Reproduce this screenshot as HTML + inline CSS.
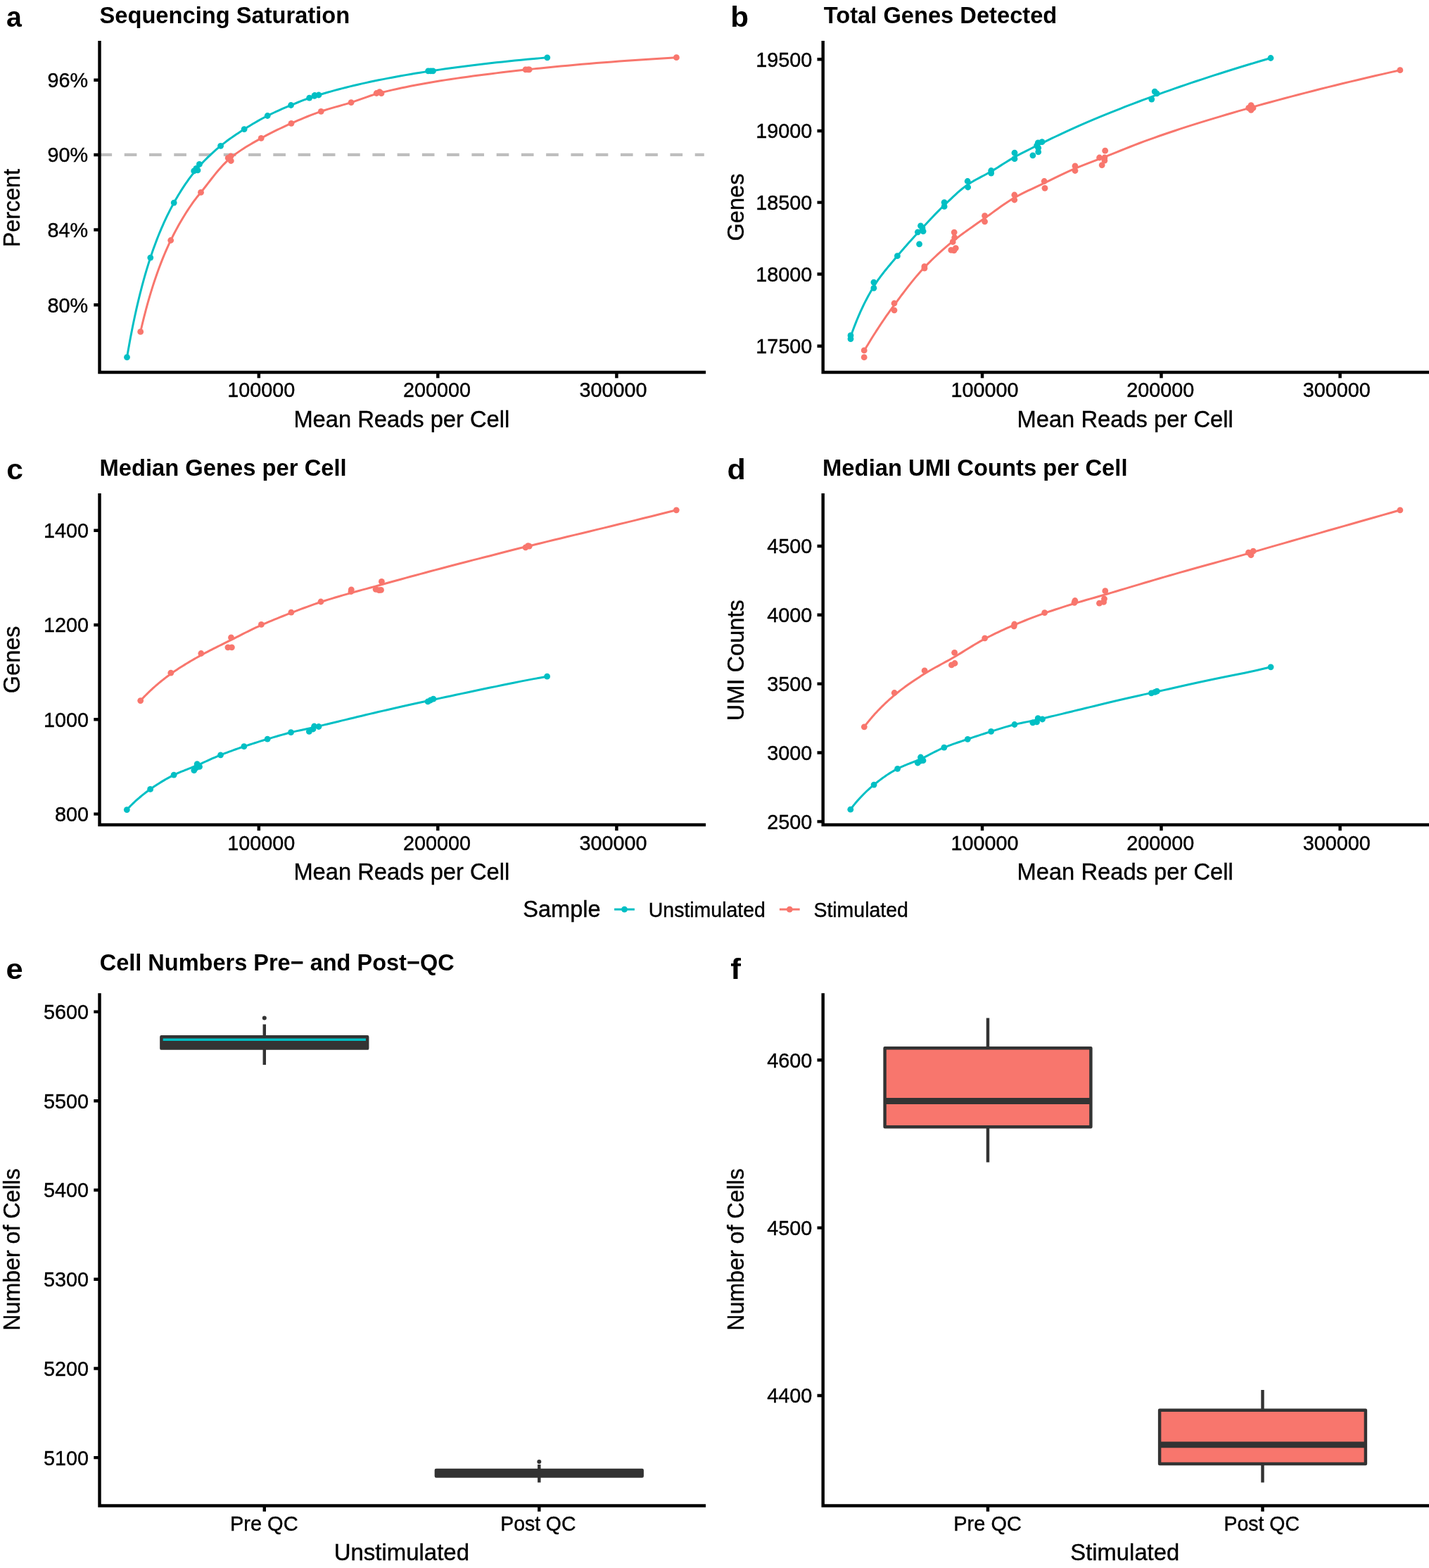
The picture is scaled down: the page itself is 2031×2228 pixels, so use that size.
<!DOCTYPE html>
<html lang="en">
<head>
<meta charset="utf-8">
<title>Sequencing QC figure</title>
<style>
html,body{margin:0;padding:0;background:#fff;}
body{width:2031px;height:2228px;}
svg{display:block;}
svg text{font-family:"Liberation Sans",sans-serif;fill:#000;}
svg text.r{stroke:#000;stroke-width:0.4px;}
</style>
</head>
<body>
<svg width="2031" height="2228" viewBox="0 0 2031 2228">
<rect width="2031" height="2228" fill="#fff"/>
<path d="M141.5 219.95H1000.8" stroke="#BEBEBE" stroke-width="4.2" stroke-dasharray="17.63 17.63" fill="none"/>
<path d="M180.5 507.6L181.47 501.9L182.46 496.25L183.46 490.64L184.48 485.08L185.51 479.57L186.55 474.11L187.61 468.69L188.69 463.32L189.78 458L190.89 452.73L192.01 447.5L193.15 442.32L194.31 437.19L195.48 432.11L196.68 427.08L197.88 422.09L199.11 417.15L200.35 412.26L201.61 407.42L202.89 402.63L204.19 397.88L205.51 393.18L206.85 388.54L208.2 383.94L209.58 379.39L210.97 374.88L212.39 370.43L213.82 366.02L215.28 361.67L216.76 357.36L218.26 353.11L219.78 348.9L221.33 344.75L222.89 340.64L224.48 336.57L226.09 332.56L227.73 328.59L229.39 324.67L231.07 320.79L232.78 316.95L234.52 313.16L236.27 309.41L238.06 305.71L239.87 302.04L241.7 298.42L243.57 294.83L245.46 291.29L247.37 287.79L249.32 284.32L251.29 280.9L253.29 277.51L255.33 274.16L257.39 270.86L259.48 267.59L261.6 264.37L263.75 261.2L265.93 258.06L268.15 254.98L270.4 251.93L272.68 248.94L274.99 245.99L277.34 243.09L279.72 240.24L282.13 237.45L284.58 234.7L287.07 231.99L289.59 229.33L292.15 226.71L294.75 224.13L297.38 221.59L300.05 219.08L302.76 216.61L305.52 214.16L308.31 211.74L311.14 209.34L314.01 206.96L316.92 204.63L319.88 202.33L322.88 200.07L325.92 197.83L329.01 195.63L332.14 193.45L335.32 191.29L338.54 189.14L341.82 186.99L345.13 184.85L348.5 182.71L351.92 180.57L355.38 178.44L358.9 176.31L362.46 174.2L366.08 172.11L369.75 170.05L373.48 168.01L377.26 166.01L381.09 164.05L384.98 162.13L388.93 160.24L392.93 158.38L396.99 156.55L401.11 154.73L405.3 152.93L409.54 151.14L413.84 149.36L418.21 147.57L422.64 145.76L427.13 143.97L431.69 142.2L436.31 140.48L441.01 138.82L445.77 137.23L450.6 135.72L455.5 134.22L460.47 132.74L465.51 131.28L470.63 129.84L475.82 128.41L481.09 127.01L486.43 125.62L491.85 124.24L497.35 122.89L502.93 121.54L508.6 120.22L514.34 118.91L520.17 117.62L526.08 116.34L532.08 115.08L538.16 113.83L544.33 112.6L550.6 111.38L556.95 110.17L563.4 108.98L569.94 107.8L576.58 106.64L583.31 105.49L590.14 104.35L597.07 103.23L604.1 102.12L611.23 101.02L618.47 99.93L625.81 98.86L633.25 97.79L640.81 96.74L648.48 95.71L656.26 94.69L664.15 93.68L672.15 92.68L680.27 91.7L688.51 90.73L696.87 89.77L705.35 88.83L713.96 87.9L722.69 86.99L731.55 86.09L740.53 85.2L749.65 84.33L758.9 83.47L768.28 82.63L777.8 81.8" fill="none" stroke="#00BFC4" stroke-width="3" stroke-linejoin="round"/>
<path d="M199.7 471.4L200.95 466.03L202.21 460.71L203.5 455.44L204.8 450.23L206.12 445.08L207.46 439.98L208.82 434.94L210.2 429.95L211.6 425.02L213.02 420.15L214.46 415.35L215.92 410.6L217.4 405.91L218.91 401.28L220.43 396.72L221.98 392.2L223.55 387.74L225.15 383.32L226.76 378.96L228.4 374.65L230.06 370.39L231.75 366.18L233.46 362.03L235.2 357.93L236.96 353.89L238.75 349.91L240.56 345.98L242.4 342.12L244.27 338.3L246.16 334.52L248.08 330.78L250.03 327.08L252.01 323.42L254.01 319.79L256.05 316.2L258.11 312.66L260.2 309.15L262.33 305.68L264.48 302.26L266.67 298.87L268.89 295.53L271.14 292.22L273.42 288.96L275.73 285.74L278.08 282.57L280.47 279.44L282.88 276.52L285.34 273.6L287.83 270.5L290.35 267.3L292.91 264L295.51 260.64L298.14 257.23L300.82 253.79L303.53 250.35L306.28 246.93L309.07 243.55L311.91 240.22L314.78 236.98L317.69 233.84L320.65 230.83L323.65 227.96L326.69 225.26L329.78 222.71L332.91 220.26L336.09 217.89L339.31 215.6L342.58 213.38L345.9 211.21L349.27 209.1L352.68 207.01L356.15 204.96L359.66 202.92L363.23 200.88L366.84 198.84L370.51 196.78L374.23 194.72L378.01 192.68L381.84 190.66L385.73 188.66L389.67 186.68L393.67 184.71L397.73 182.76L401.84 180.82L406.02 178.89L410.26 176.97L414.56 175.05L418.92 173.14L423.34 171.22L427.83 169.3L432.38 167.4L437 165.51L441.68 163.66L446.44 161.84L451.26 160.07L456.15 158.35L461.11 156.71L466.15 155.15L471.26 153.65L476.44 152.17L481.7 150.69L487.03 149.18L492.44 147.62L497.93 145.96L503.5 144.17L509.15 142.2L514.88 140.13L520.69 138.04L526.59 136L532.57 134.09L538.64 132.39L544.8 130.85L551.05 129.35L557.39 127.88L563.82 126.44L570.34 125.04L576.96 123.66L583.67 122.32L590.48 121L597.39 119.71L604.4 118.45L611.51 117.21L618.72 116L626.04 114.81L633.47 113.64L641 112.49L648.64 111.36L656.39 110.25L664.26 109.15L672.23 108.07L680.33 107.01L688.54 105.95L696.87 104.91L705.32 103.88L713.89 102.86L722.59 101.85L731.41 100.85L740.36 99.85L749.44 98.86L758.66 97.88L768 96.9L777.48 95.94L787.1 95L796.86 94.06L806.76 93.14L816.8 92.24L826.99 91.34L837.33 90.46L847.81 89.6L858.45 88.74L869.24 87.9L880.19 87.08L891.3 86.27L902.57 85.47L914 84.69L925.59 83.92L937.36 83.16L949.29 82.42L961.4 81.7" fill="none" stroke="#F8766D" stroke-width="3" stroke-linejoin="round"/>
<g fill="#00BFC4"><circle cx="180.5" cy="507.6" r="4.4"/><circle cx="213.8" cy="366.1" r="4.4"/><circle cx="247.2" cy="288.1" r="4.4"/><circle cx="275.7" cy="242.9" r="4.4"/><circle cx="278.9" cy="239.4" r="4.4"/><circle cx="281" cy="241.9" r="4.4"/><circle cx="283.4" cy="233.4" r="4.4"/><circle cx="313.6" cy="207.3" r="4.4"/><circle cx="347.1" cy="183.6" r="4.4"/><circle cx="380.2" cy="164.5" r="4.4"/><circle cx="413.5" cy="149.5" r="4.4"/><circle cx="439.7" cy="139.1" r="4.4"/><circle cx="446.8" cy="136.3" r="4.4"/><circle cx="447.3" cy="135.5" r="4.4"/><circle cx="453" cy="135" r="4.4"/><circle cx="608.6" cy="100.9" r="4.4"/><circle cx="612.2" cy="100.9" r="4.4"/><circle cx="615.4" cy="100.9" r="4.4"/><circle cx="777.8" cy="81.8" r="4.4"/></g>
<g fill="#F8766D"><circle cx="199.7" cy="471.4" r="4.4"/><circle cx="242.7" cy="341.5" r="4.4"/><circle cx="285.5" cy="273.4" r="4.4"/><circle cx="324.2" cy="224.4" r="4.4"/><circle cx="328" cy="222" r="4.4"/><circle cx="328.3" cy="228.5" r="4.4"/><circle cx="371.2" cy="196.4" r="4.4"/><circle cx="414" cy="175.3" r="4.4"/><circle cx="456.3" cy="158.3" r="4.4"/><circle cx="499.1" cy="145.6" r="4.4"/><circle cx="535.1" cy="132.5" r="4.4"/><circle cx="539.5" cy="130.6" r="4.4"/><circle cx="542" cy="132.7" r="4.4"/><circle cx="747" cy="98.8" r="4.4"/><circle cx="750.5" cy="98.8" r="4.4"/><circle cx="752.2" cy="98.8" r="4.4"/><circle cx="961.4" cy="81.7" r="4.4"/></g>
<path d="M141.5 57.95V528.95H1003.1" fill="none" stroke="#000" stroke-width="4.45" stroke-linejoin="miter"/>
<path d="M367.85 528.95v8.2M622.3 528.95v8.2M876.4 528.95v8.2M141.5 113.8h-8.2M141.5 219.95h-8.2M141.5 326.5h-8.2M141.5 433.3h-8.2" fill="none" stroke="#000" stroke-width="4.45"/>
<text id="t1" x="125.2" y="124.2" font-size="29.8" text-anchor="end" textLength="57.64" lengthAdjust="spacingAndGlyphs" class="r">96%</text>
<text id="t2" x="125.2" y="230.35" font-size="29.8" text-anchor="end" textLength="57.64" lengthAdjust="spacingAndGlyphs" class="r">90%</text>
<text id="t3" x="125.2" y="336.9" font-size="29.8" text-anchor="end" textLength="57.64" lengthAdjust="spacingAndGlyphs" class="r">84%</text>
<text id="t4" x="125.2" y="443.7" font-size="29.8" text-anchor="end" textLength="57.64" lengthAdjust="spacingAndGlyphs" class="r">80%</text>
<text id="t5" x="371.3" y="563.9" font-size="29.8" text-anchor="middle" textLength="96.1" lengthAdjust="spacingAndGlyphs" class="r">100000</text>
<text id="t6" x="621" y="563.9" font-size="29.8" text-anchor="middle" textLength="96.1" lengthAdjust="spacingAndGlyphs" class="r">200000</text>
<text id="t7" x="871.6" y="563.9" font-size="29.8" text-anchor="middle" textLength="96.1" lengthAdjust="spacingAndGlyphs" class="r">300000</text>
<text id="t8" x="570.82" y="606.9" font-size="33" text-anchor="middle" textLength="306.83" lengthAdjust="spacingAndGlyphs" class="r">Mean Reads per Cell</text>
<text id="t9" x="28" y="295.6" font-size="33" text-anchor="middle" transform="rotate(-90 28 295.6)" textLength="111.18" lengthAdjust="spacingAndGlyphs" class="r">Percent</text>
<text id="t10" x="141.51" y="33.3" font-size="33.3" font-weight="bold" textLength="355.75" lengthAdjust="spacingAndGlyphs">Sequencing Saturation</text>
<text id="t11" x="8.92" y="37.9" font-size="41" font-weight="bold" textLength="21.88" lengthAdjust="spacingAndGlyphs">a</text>
<path d="M1209 478.5L1209.98 475.68L1210.96 472.87L1211.97 470.09L1212.99 467.32L1214.02 464.57L1215.07 461.84L1216.13 459.12L1217.21 456.43L1218.3 453.75L1219.41 451.09L1220.54 448.44L1221.68 445.82L1222.84 443.21L1224.02 440.62L1225.21 438.05L1226.42 435.49L1227.65 432.96L1228.9 430.44L1230.16 427.93L1231.44 425.45L1232.74 422.98L1234.06 420.53L1235.4 418.1L1236.76 415.69L1238.14 413.29L1239.54 410.91L1240.96 408.54L1242.4 406.2L1243.86 403.9L1245.34 401.64L1246.84 399.41L1248.36 397.23L1249.91 395.07L1251.48 392.93L1253.07 390.82L1254.69 388.72L1256.32 386.63L1257.99 384.54L1259.67 382.46L1261.38 380.37L1263.12 378.28L1264.88 376.17L1266.66 374.04L1268.48 371.9L1270.31 369.72L1272.18 367.52L1274.07 365.28L1275.99 363L1277.94 360.69L1279.91 358.38L1281.92 356.04L1283.95 353.69L1286.02 351.33L1288.11 348.94L1290.23 346.54L1292.39 344.12L1294.57 341.68L1296.79 339.22L1299.04 336.74L1301.32 334.24L1303.63 331.71L1305.98 329.17L1308.37 326.61L1310.78 324L1313.24 321.36L1315.72 318.68L1318.25 315.96L1320.81 313.22L1323.41 310.46L1326.04 307.69L1328.72 304.91L1331.43 302.12L1334.18 299.33L1336.97 296.56L1339.8 293.79L1342.68 291.05L1345.59 288.26L1348.55 285.42L1351.55 282.55L1354.6 279.66L1357.68 276.8L1360.82 273.96L1364 271.19L1367.22 268.5L1370.49 265.91L1373.81 263.45L1377.18 261.13L1380.59 258.98L1384.06 256.93L1387.57 254.98L1391.14 253.07L1394.76 251.17L1398.43 249.24L1402.16 247.26L1405.93 245.18L1409.77 242.97L1413.66 240.63L1417.6 238.17L1421.6 235.64L1425.66 233.07L1429.78 230.48L1433.96 227.9L1438.2 225.37L1442.51 222.92L1446.87 220.53L1451.3 218.19L1455.79 215.87L1460.34 213.57L1464.97 211.26L1469.66 208.94L1474.42 206.58L1479.24 204.19L1484.14 201.78L1489.11 199.36L1494.15 196.93L1499.26 194.5L1504.45 192.05L1509.71 189.6L1515.05 187.15L1520.47 184.68L1525.96 182.21L1531.54 179.73L1537.2 177.24L1542.93 174.74L1548.76 172.24L1554.66 169.73L1560.65 167.21L1566.73 164.69L1572.9 162.16L1579.15 159.62L1585.5 157.07L1591.94 154.52L1598.47 151.96L1605.1 149.39L1611.82 146.81L1618.65 144.23L1625.57 141.64L1632.59 139.05L1639.71 136.44L1646.94 133.83L1654.27 131.2L1661.7 128.57L1669.25 125.93L1676.9 123.28L1684.67 120.62L1692.55 117.95L1700.54 115.27L1708.65 112.58L1716.88 109.89L1725.22 107.18L1733.69 104.47L1742.28 101.75L1750.99 99.03L1759.83 96.29L1768.8 93.55L1777.9 90.8L1787.13 88.04L1796.5 85.27L1806 82.5" fill="none" stroke="#00BFC4" stroke-width="3" stroke-linejoin="round"/>
<path d="M1228.2 498.5L1229.45 496.38L1230.72 494.23L1232 492.08L1233.31 489.9L1234.63 487.71L1235.98 485.5L1237.34 483.28L1238.72 481.04L1240.12 478.79L1241.55 476.52L1242.99 474.24L1244.45 471.94L1245.94 469.63L1247.45 467.31L1248.97 464.97L1250.53 462.61L1252.1 460.25L1253.69 457.87L1255.31 455.48L1256.96 453.08L1258.62 450.66L1260.31 448.23L1262.03 445.79L1263.77 443.34L1265.53 440.88L1267.32 438.41L1269.14 435.92L1270.98 433.43L1272.85 430.91L1274.74 428.34L1276.67 425.75L1278.62 423.11L1280.6 420.45L1282.61 417.77L1284.64 415.06L1286.71 412.34L1288.81 409.61L1290.93 406.86L1293.09 404.11L1295.28 401.36L1297.5 398.62L1299.76 395.88L1302.04 393.15L1304.36 390.44L1306.71 387.75L1309.1 385.08L1311.52 382.43L1313.97 379.82L1316.46 377.24L1318.99 374.66L1321.56 372.1L1324.16 369.55L1326.79 367.01L1329.47 364.48L1332.19 361.96L1334.94 359.45L1337.74 356.94L1340.57 354.44L1343.45 351.95L1346.36 349.46L1349.32 346.97L1352.33 344.49L1355.37 342.01L1358.46 339.54L1361.6 337.1L1364.78 334.68L1368 332.28L1371.28 329.88L1374.6 327.49L1377.96 325.1L1381.38 322.69L1384.85 320.27L1388.36 317.82L1391.93 315.34L1395.55 312.83L1399.22 310.26L1402.95 307.63L1406.72 304.91L1410.56 302.12L1414.45 299.29L1418.39 296.44L1422.39 293.59L1426.45 290.76L1430.57 287.98L1434.75 285.27L1438.99 282.65L1443.29 280.15L1447.65 277.75L1452.08 275.44L1456.56 273.19L1461.12 270.97L1465.74 268.78L1470.43 266.58L1475.18 264.36L1480 262.09L1484.9 259.76L1489.86 257.36L1494.9 254.91L1500.01 252.43L1505.19 249.93L1510.45 247.42L1515.78 244.93L1521.19 242.48L1526.68 240.07L1532.25 237.72L1537.9 235.44L1543.63 233.19L1549.44 230.95L1555.34 228.7L1561.32 226.41L1567.39 224.06L1573.55 221.62L1579.8 219.12L1586.14 216.57L1592.56 213.99L1599.09 211.38L1605.7 208.75L1612.41 206.13L1619.22 203.51L1626.13 200.92L1633.14 198.36L1640.25 195.82L1647.46 193.28L1654.78 190.75L1662.2 188.23L1669.73 185.71L1677.37 183.19L1685.11 180.68L1692.98 178.17L1700.95 175.66L1709.04 173.14L1717.25 170.62L1725.57 168.1L1734.02 165.57L1742.59 163.03L1751.28 160.48L1760.1 157.92L1769.04 155.35L1778.12 152.77L1787.33 150.17L1796.67 147.57L1806.14 144.96L1815.75 142.35L1825.5 139.73L1835.4 137.11L1845.43 134.48L1855.61 131.84L1865.94 129.19L1876.42 126.54L1887.05 123.89L1897.83 121.22L1908.77 118.56L1919.86 115.88L1931.12 113.2L1942.54 110.51L1954.13 107.82L1965.88 105.12L1977.8 102.41L1989.9 99.7" fill="none" stroke="#F8766D" stroke-width="3" stroke-linejoin="round"/>
<g fill="#00BFC4"><circle cx="1209" cy="476.7" r="4.4"/><circle cx="1209" cy="481.6" r="4.4"/><circle cx="1241.9" cy="401.1" r="4.4"/><circle cx="1241.9" cy="409.3" r="4.4"/><circle cx="1275.4" cy="363.7" r="4.4"/><circle cx="1304.4" cy="329.8" r="4.4"/><circle cx="1308.5" cy="320.8" r="4.4"/><circle cx="1311" cy="324.1" r="4.4"/><circle cx="1312.1" cy="328.6" r="4.4"/><circle cx="1306.6" cy="346.8" r="4.4"/><circle cx="1342.1" cy="287.6" r="4.4"/><circle cx="1342.1" cy="293.4" r="4.4"/><circle cx="1375.2" cy="257.5" r="4.4"/><circle cx="1375.7" cy="266" r="4.4"/><circle cx="1408.7" cy="242.5" r="4.4"/><circle cx="1408.7" cy="246.1" r="4.4"/><circle cx="1442" cy="217.2" r="4.4"/><circle cx="1442" cy="225.7" r="4.4"/><circle cx="1467.9" cy="220.8" r="4.4"/><circle cx="1473.6" cy="206.9" r="4.4"/><circle cx="1475.3" cy="202.8" r="4.4"/><circle cx="1481" cy="201.7" r="4.4"/><circle cx="1475.7" cy="210.2" r="4.4"/><circle cx="1475.7" cy="215.9" r="4.4"/><circle cx="1636.8" cy="141.1" r="4.4"/><circle cx="1641.2" cy="130.1" r="4.4"/><circle cx="1644.1" cy="132.8" r="4.4"/><circle cx="1806" cy="82.5" r="4.4"/></g>
<g fill="#F8766D"><circle cx="1228.2" cy="497.9" r="4.4"/><circle cx="1228.2" cy="507.7" r="4.4"/><circle cx="1271" cy="431" r="4.4"/><circle cx="1271" cy="440.8" r="4.4"/><circle cx="1313.9" cy="378.7" r="4.4"/><circle cx="1313.9" cy="381.2" r="4.4"/><circle cx="1356.2" cy="330.1" r="4.4"/><circle cx="1356.7" cy="337.7" r="4.4"/><circle cx="1354.2" cy="343.7" r="4.4"/><circle cx="1351.8" cy="355.4" r="4.4"/><circle cx="1355.9" cy="355.9" r="4.4"/><circle cx="1358.3" cy="352.6" r="4.4"/><circle cx="1399.6" cy="306.7" r="4.4"/><circle cx="1399.6" cy="314.8" r="4.4"/><circle cx="1441.8" cy="277" r="4.4"/><circle cx="1441.8" cy="284" r="4.4"/><circle cx="1484.2" cy="257.5" r="4.4"/><circle cx="1485" cy="267.3" r="4.4"/><circle cx="1528" cy="235.9" r="4.4"/><circle cx="1528" cy="242.5" r="4.4"/><circle cx="1570.7" cy="214.2" r="4.4"/><circle cx="1562.6" cy="224" r="4.4"/><circle cx="1569.9" cy="224" r="4.4"/><circle cx="1566.2" cy="234.6" r="4.4"/><circle cx="1569.9" cy="228.1" r="4.4"/><circle cx="1774.7" cy="153.4" r="4.4"/><circle cx="1778.1" cy="149.6" r="4.4"/><circle cx="1778.1" cy="156.3" r="4.4"/><circle cx="1781" cy="153.4" r="4.4"/><circle cx="1989.9" cy="99.7" r="4.4"/></g>
<path d="M1169.7 57.95V528.95H2033" fill="none" stroke="#000" stroke-width="4.45" stroke-linejoin="miter"/>
<path d="M1396.05 528.95v8.2M1650.5 528.95v8.2M1904.6 528.95v8.2M1169.7 84.3h-8.2M1169.7 185.9h-8.2M1169.7 287.6h-8.2M1169.7 389.5h-8.2M1169.7 491.7h-8.2" fill="none" stroke="#000" stroke-width="4.45"/>
<text id="t12" x="1154.3" y="94.7" font-size="29.8" text-anchor="end" textLength="80.09" lengthAdjust="spacingAndGlyphs" class="r">19500</text>
<text id="t13" x="1154.3" y="196.3" font-size="29.8" text-anchor="end" textLength="80.09" lengthAdjust="spacingAndGlyphs" class="r">19000</text>
<text id="t14" x="1154.3" y="298" font-size="29.8" text-anchor="end" textLength="80.09" lengthAdjust="spacingAndGlyphs" class="r">18500</text>
<text id="t15" x="1154.3" y="399.9" font-size="29.8" text-anchor="end" textLength="80.09" lengthAdjust="spacingAndGlyphs" class="r">18000</text>
<text id="t16" x="1154.3" y="502.1" font-size="29.8" text-anchor="end" textLength="80.09" lengthAdjust="spacingAndGlyphs" class="r">17500</text>
<text id="t17" x="1399.5" y="563.9" font-size="29.8" text-anchor="middle" textLength="96.1" lengthAdjust="spacingAndGlyphs" class="r">100000</text>
<text id="t18" x="1649.2" y="563.9" font-size="29.8" text-anchor="middle" textLength="96.1" lengthAdjust="spacingAndGlyphs" class="r">200000</text>
<text id="t19" x="1899.8" y="563.9" font-size="29.8" text-anchor="middle" textLength="96.1" lengthAdjust="spacingAndGlyphs" class="r">300000</text>
<text id="t20" x="1599.14" y="606.9" font-size="33" text-anchor="middle" textLength="307.3" lengthAdjust="spacingAndGlyphs" class="r">Mean Reads per Cell</text>
<text id="t21" x="1056.7" y="294.47" font-size="33" text-anchor="middle" transform="rotate(-90 1056.7 294.47)" textLength="96.01" lengthAdjust="spacingAndGlyphs" class="r">Genes</text>
<text id="t22" x="1170.72" y="33.3" font-size="33.3" font-weight="bold" textLength="331.61" lengthAdjust="spacingAndGlyphs">Total Genes Detected</text>
<text id="t23" x="1038.15" y="38" font-size="41" font-weight="bold" textLength="25.76" lengthAdjust="spacingAndGlyphs">b</text>
<path d="M180.3 1150.6L181.27 1149.54L182.26 1148.48L183.26 1147.42L184.27 1146.37L185.3 1145.31L186.34 1144.26L187.4 1143.21L188.48 1142.16L189.57 1141.11L190.67 1140.06L191.79 1139.02L192.93 1137.97L194.09 1136.93L195.26 1135.89L196.45 1134.84L197.65 1133.8L198.88 1132.77L200.12 1131.73L201.38 1130.69L202.66 1129.66L203.95 1128.62L205.27 1127.59L206.6 1126.56L207.96 1125.53L209.33 1124.5L210.72 1123.47L212.14 1122.45L213.57 1121.42L215.03 1120.39L216.5 1119.36L218 1118.33L219.52 1117.3L221.06 1116.27L222.63 1115.24L224.22 1114.2L225.83 1113.18L227.46 1112.15L229.12 1111.12L230.8 1110.1L232.51 1109.09L234.24 1108.08L235.99 1107.07L237.78 1106.07L239.58 1105.08L241.42 1104.1L243.28 1103.13L245.17 1102.16L247.08 1101.21L249.02 1100.27L251 1099.36L253 1098.47L255.03 1097.59L257.09 1096.73L259.17 1095.87L261.29 1095.02L263.44 1094.16L265.62 1093.3L267.84 1092.43L270.08 1091.54L272.36 1090.63L274.67 1089.7L277.02 1088.74L279.4 1087.75L281.81 1086.73L284.26 1085.66L286.74 1084.55L289.26 1083.41L291.82 1082.25L294.42 1081.07L297.05 1079.87L299.72 1078.67L302.43 1077.46L305.18 1076.26L307.97 1075.07L310.8 1073.89L313.67 1072.73L316.58 1071.59L319.54 1070.45L322.53 1069.31L325.58 1068.18L328.66 1067.04L331.79 1065.91L334.97 1064.78L338.19 1063.65L341.46 1062.52L344.78 1061.38L348.14 1060.25L351.56 1059.11L355.02 1057.98L358.54 1056.85L362.1 1055.72L365.72 1054.58L369.39 1053.44L373.12 1052.3L376.89 1051.16L380.73 1050.01L384.62 1048.85L388.56 1047.67L392.56 1046.48L396.63 1045.29L400.75 1044.11L404.93 1042.94L409.17 1041.81L413.47 1040.71L417.84 1039.66L422.26 1038.66L426.76 1037.69L431.32 1036.73L435.94 1035.74L440.64 1034.72L445.4 1033.64L450.23 1032.5L455.13 1031.34L460.1 1030.15L465.14 1028.94L470.26 1027.71L475.45 1026.46L480.72 1025.19L486.07 1023.9L491.49 1022.6L496.99 1021.27L502.57 1019.93L508.24 1018.57L513.98 1017.2L519.81 1015.81L525.72 1014.41L531.72 1012.99L537.81 1011.56L543.99 1010.12L550.25 1008.67L556.61 1007.21L563.06 1005.74L569.6 1004.26L576.24 1002.77L582.98 1001.27L589.81 999.77L596.74 998.26L603.78 996.75L610.91 995.23L618.15 993.7L625.5 992.13L632.95 990.54L640.51 988.93L648.18 987.29L655.96 985.62L663.86 983.94L671.87 982.25L680 980.54L688.24 978.82L696.61 977.09L705.1 975.35L713.71 973.56L722.44 971.74L731.31 969.93L740.3 968.14L749.42 966.38L758.68 964.64L768.07 962.91L777.6 961.2" fill="none" stroke="#00BFC4" stroke-width="3" stroke-linejoin="round"/>
<path d="M199.7 995.6L200.95 994.24L202.21 992.87L203.5 991.51L204.8 990.15L206.12 988.79L207.46 987.43L208.82 986.08L210.2 984.72L211.6 983.37L213.02 982.01L214.46 980.66L215.92 979.3L217.4 977.95L218.91 976.6L220.43 975.25L221.98 973.9L223.55 972.56L225.14 971.21L226.76 969.86L228.4 968.52L230.06 967.17L231.75 965.83L233.46 964.49L235.2 963.15L236.96 961.81L238.75 960.47L240.56 959.13L242.4 957.79L244.27 956.45L246.16 955.12L248.08 953.8L250.03 952.48L252 951.16L254.01 949.84L256.04 948.53L258.11 947.22L260.2 945.91L262.32 944.6L264.48 943.28L266.66 941.97L268.88 940.65L271.13 939.32L273.41 938L275.73 936.66L278.08 935.32L280.46 933.98L282.88 932.62L285.33 931.26L287.82 929.89L290.34 928.53L292.9 927.16L295.5 925.8L298.14 924.43L300.81 923.06L303.52 921.68L306.27 920.29L309.07 918.89L311.9 917.48L314.77 916.05L317.68 914.61L320.64 913.14L323.64 911.66L326.68 910.15L329.77 908.62L332.9 907.05L336.08 905.44L339.3 903.8L342.57 902.14L345.89 900.46L349.26 898.77L352.67 897.06L356.13 895.36L359.65 893.65L363.21 891.95L366.83 890.27L370.5 888.6L374.22 886.95L377.99 885.31L381.83 883.68L385.71 882.04L389.65 880.41L393.65 878.78L397.71 877.15L401.83 875.51L406 873.87L410.24 872.22L414.54 870.56L418.9 868.88L423.32 867.18L427.81 865.47L432.36 863.76L436.98 862.05L441.66 860.35L446.41 858.67L451.24 857L456.13 855.36L461.09 853.75L466.12 852.16L471.23 850.58L476.41 849.03L481.67 847.47L487 845.92L492.41 844.36L497.9 842.8L503.47 841.23L509.11 839.68L514.84 838.14L520.66 836.59L526.56 835.01L532.54 833.4L538.61 831.73L544.76 830.01L551.01 828.28L557.35 826.52L563.78 824.75L570.3 822.96L576.92 821.14L583.63 819.31L590.44 817.46L597.35 815.59L604.35 813.7L611.46 811.8L618.68 809.87L625.99 807.93L633.42 805.97L640.95 803.99L648.59 802L656.34 799.99L664.2 797.96L672.18 795.92L680.27 793.86L688.48 791.79L696.81 789.7L705.26 787.56L713.83 785.32L722.53 783.02L731.35 780.73L740.3 778.53L749.38 776.45L758.59 774.2L767.93 771.93L777.41 769.63L787.03 767.31L796.79 764.95L806.69 762.56L816.73 760.14L826.91 757.69L837.25 755.19L847.73 752.66L858.37 750.09L869.16 747.48L880.1 744.82L891.21 742.11L902.48 739.36L913.9 736.55L925.5 733.7L937.26 730.79L949.19 727.82L961.3 724.8" fill="none" stroke="#F8766D" stroke-width="3" stroke-linejoin="round"/>
<g fill="#00BFC4"><circle cx="180.3" cy="1150.6" r="4.4"/><circle cx="213.6" cy="1121.4" r="4.4"/><circle cx="247.1" cy="1101.2" r="4.4"/><circle cx="275.8" cy="1094.6" r="4.4"/><circle cx="280.2" cy="1085.7" r="4.4"/><circle cx="283.5" cy="1089.4" r="4.4"/><circle cx="278.9" cy="1090.9" r="4.4"/><circle cx="313.5" cy="1072.8" r="4.4"/><circle cx="346.8" cy="1060.7" r="4.4"/><circle cx="380.1" cy="1050.2" r="4.4"/><circle cx="413.5" cy="1040.7" r="4.4"/><circle cx="439.4" cy="1039.4" r="4.4"/><circle cx="445" cy="1036" r="4.4"/><circle cx="446.6" cy="1032" r="4.4"/><circle cx="453" cy="1032.5" r="4.4"/><circle cx="608.1" cy="996.9" r="4.4"/><circle cx="611.8" cy="995" r="4.4"/><circle cx="615.9" cy="993.2" r="4.4"/><circle cx="777.6" cy="961.2" r="4.4"/></g>
<g fill="#F8766D"><circle cx="199.7" cy="995.6" r="4.4"/><circle cx="242.8" cy="956.2" r="4.4"/><circle cx="285.8" cy="928.5" r="4.4"/><circle cx="328.5" cy="905.9" r="4.4"/><circle cx="323.9" cy="919.8" r="4.4"/><circle cx="329.4" cy="919.8" r="4.4"/><circle cx="371.4" cy="887.4" r="4.4"/><circle cx="413.9" cy="870.2" r="4.4"/><circle cx="456" cy="855" r="4.4"/><circle cx="499.3" cy="837.8" r="4.4"/><circle cx="499" cy="840.5" r="4.4"/><circle cx="542.4" cy="826.3" r="4.4"/><circle cx="534.1" cy="837.3" r="4.4"/><circle cx="541.5" cy="838.4" r="4.4"/><circle cx="538.7" cy="838.7" r="4.4"/><circle cx="747" cy="777.9" r="4.4"/><circle cx="750.5" cy="775.7" r="4.4"/><circle cx="752.2" cy="776.2" r="4.4"/><circle cx="961.3" cy="724.8" r="4.4"/></g>
<path d="M141.5 701V1172H1003.1" fill="none" stroke="#000" stroke-width="4.45" stroke-linejoin="miter"/>
<path d="M367.85 1172v8.2M622.3 1172v8.2M876.4 1172v8.2M141.5 753.8h-8.2M141.5 887.9h-8.2M141.5 1022.3h-8.2M141.5 1156.6h-8.2" fill="none" stroke="#000" stroke-width="4.45"/>
<text id="t24" x="126.1" y="764.2" font-size="29.8" text-anchor="end" textLength="64.07" lengthAdjust="spacingAndGlyphs" class="r">1400</text>
<text id="t25" x="126.1" y="898.3" font-size="29.8" text-anchor="end" textLength="64.07" lengthAdjust="spacingAndGlyphs" class="r">1200</text>
<text id="t26" x="126.1" y="1032.7" font-size="29.8" text-anchor="end" textLength="64.07" lengthAdjust="spacingAndGlyphs" class="r">1000</text>
<text id="t27" x="126.1" y="1167" font-size="29.8" text-anchor="end" textLength="48.05" lengthAdjust="spacingAndGlyphs" class="r">800</text>
<text id="t28" x="371.3" y="1207.7" font-size="29.8" text-anchor="middle" textLength="96.1" lengthAdjust="spacingAndGlyphs" class="r">100000</text>
<text id="t29" x="621" y="1207.7" font-size="29.8" text-anchor="middle" textLength="96.1" lengthAdjust="spacingAndGlyphs" class="r">200000</text>
<text id="t30" x="871.6" y="1207.7" font-size="29.8" text-anchor="middle" textLength="96.1" lengthAdjust="spacingAndGlyphs" class="r">300000</text>
<text id="t31" x="570.82" y="1250" font-size="33" text-anchor="middle" textLength="306.83" lengthAdjust="spacingAndGlyphs" class="r">Mean Reads per Cell</text>
<text id="t32" x="28.3" y="937.31" font-size="33" text-anchor="middle" transform="rotate(-90 28.3 937.31)" textLength="95.81" lengthAdjust="spacingAndGlyphs" class="r">Genes</text>
<text id="t33" x="141.41" y="676.2" font-size="33.3" font-weight="bold" textLength="351.33" lengthAdjust="spacingAndGlyphs">Median Genes per Cell</text>
<text id="t34" x="9.2" y="680.9" font-size="41" font-weight="bold" textLength="23.64" lengthAdjust="spacingAndGlyphs">c</text>
<path d="M1208.8 1150.2L1209.77 1148.88L1210.76 1147.57L1211.76 1146.26L1212.78 1144.95L1213.81 1143.65L1214.86 1142.36L1215.92 1141.07L1217 1139.79L1218.09 1138.51L1219.2 1137.23L1220.32 1135.96L1221.46 1134.69L1222.62 1133.43L1223.8 1132.18L1224.99 1130.93L1226.2 1129.68L1227.42 1128.44L1228.67 1127.2L1229.93 1125.96L1231.21 1124.73L1232.51 1123.51L1233.83 1122.29L1235.17 1121.07L1236.52 1119.86L1237.9 1118.65L1239.3 1117.45L1240.71 1116.25L1242.15 1115.06L1243.61 1113.86L1245.09 1112.67L1246.59 1111.47L1248.11 1110.28L1249.66 1109.08L1251.23 1107.89L1252.82 1106.7L1254.43 1105.52L1256.07 1104.35L1257.73 1103.18L1259.41 1102.03L1261.12 1100.88L1262.85 1099.75L1264.61 1098.62L1266.4 1097.52L1268.21 1096.42L1270.05 1095.35L1271.91 1094.29L1273.8 1093.26L1275.72 1092.24L1277.66 1091.26L1279.64 1090.31L1281.64 1089.4L1283.67 1088.52L1285.74 1087.65L1287.83 1086.8L1289.95 1085.95L1292.1 1085.11L1294.29 1084.25L1296.5 1083.39L1298.75 1082.5L1301.03 1081.58L1303.35 1080.63L1305.69 1079.64L1308.08 1078.6L1310.49 1077.5L1312.94 1076.32L1315.43 1075.09L1317.95 1073.81L1320.51 1072.49L1323.11 1071.14L1325.75 1069.78L1328.42 1068.42L1331.13 1067.06L1333.88 1065.73L1336.68 1064.43L1339.51 1063.17L1342.38 1061.96L1345.3 1060.8L1348.25 1059.66L1351.25 1058.55L1354.3 1057.46L1357.38 1056.37L1360.52 1055.29L1363.7 1054.21L1366.92 1053.12L1370.19 1052.02L1373.51 1050.91L1376.88 1049.76L1380.3 1048.61L1383.76 1047.45L1387.28 1046.27L1390.85 1045.09L1394.46 1043.91L1398.14 1042.72L1401.86 1041.52L1405.64 1040.33L1409.48 1039.13L1413.37 1037.9L1417.31 1036.65L1421.32 1035.39L1425.38 1034.13L1429.5 1032.89L1433.68 1031.69L1437.92 1030.52L1442.22 1029.42L1446.59 1028.4L1451.02 1027.44L1455.51 1026.52L1460.07 1025.62L1464.7 1024.7L1469.39 1023.73L1474.15 1022.69L1478.98 1021.58L1483.88 1020.44L1488.85 1019.28L1493.9 1018.08L1499.01 1016.86L1504.2 1015.62L1509.47 1014.35L1514.81 1013.05L1520.24 1011.74L1525.73 1010.4L1531.31 1009.04L1536.97 1007.67L1542.72 1006.27L1548.54 1004.86L1554.46 1003.43L1560.45 1001.99L1566.54 1000.53L1572.71 999.06L1578.97 997.57L1585.32 996.08L1591.77 994.57L1598.31 993.05L1604.94 991.53L1611.67 989.99L1618.5 988.45L1625.43 986.9L1632.46 985.35L1639.59 983.8L1646.82 982.22L1654.16 980.6L1661.61 978.93L1669.16 977.24L1676.83 975.51L1684.6 973.77L1692.49 972.02L1700.49 970.26L1708.61 968.51L1716.85 966.77L1725.21 965.04L1733.68 963.32L1742.29 961.59L1751.01 959.83L1759.87 958.03L1768.85 956.17L1777.96 954.24L1787.2 952.2L1796.58 950.04L1806.1 947.8" fill="none" stroke="#00BFC4" stroke-width="3" stroke-linejoin="round"/>
<path d="M1228.3 1032.8L1229.55 1031.15L1230.82 1029.51L1232.11 1027.87L1233.41 1026.24L1234.74 1024.6L1236.08 1022.97L1237.45 1021.35L1238.83 1019.72L1240.23 1018.1L1241.66 1016.49L1243.1 1014.87L1244.56 1013.26L1246.05 1011.65L1247.56 1010.05L1249.09 1008.45L1250.64 1006.85L1252.21 1005.25L1253.81 1003.66L1255.43 1002.07L1257.07 1000.48L1258.74 998.9L1260.43 997.31L1262.15 995.73L1263.89 994.16L1265.65 992.59L1267.44 991.02L1269.26 989.45L1271.1 987.88L1272.97 986.32L1274.87 984.77L1276.79 983.22L1278.75 981.68L1280.73 980.15L1282.74 978.62L1284.77 977.09L1286.84 975.57L1288.94 974.05L1291.07 972.53L1293.22 971.01L1295.41 969.49L1297.64 967.98L1299.89 966.46L1302.18 964.94L1304.5 963.42L1306.85 961.89L1309.23 960.36L1311.66 958.83L1314.11 957.29L1316.6 955.76L1319.13 954.25L1321.7 952.76L1324.3 951.27L1326.94 949.79L1329.61 948.31L1332.33 946.82L1335.09 945.31L1337.88 943.79L1340.72 942.25L1343.59 940.68L1346.51 939.08L1349.47 937.44L1352.47 935.75L1355.52 934.02L1358.61 932.21L1361.75 930.33L1364.93 928.39L1368.15 926.39L1371.43 924.35L1374.75 922.28L1378.12 920.19L1381.53 918.1L1385 916L1388.52 913.92L1392.09 911.86L1395.71 909.84L1399.38 907.87L1403.1 905.93L1406.88 904.01L1410.71 902.09L1414.6 900.19L1418.55 898.3L1422.55 896.41L1426.61 894.54L1430.73 892.68L1434.91 890.83L1439.15 888.99L1443.45 887.16L1447.81 885.34L1452.23 883.54L1456.72 881.75L1461.28 879.96L1465.9 878.19L1470.58 876.42L1475.34 874.67L1480.16 872.92L1485.05 871.17L1490.02 869.44L1495.05 867.72L1500.16 866.01L1505.34 864.3L1510.6 862.61L1515.94 860.91L1521.35 859.22L1526.83 857.53L1532.4 855.85L1538.05 854.19L1543.78 852.56L1549.59 850.92L1555.49 849.25L1561.47 847.55L1567.54 845.78L1573.7 843.95L1579.95 842.09L1586.28 840.2L1592.71 838.28L1599.23 836.33L1605.84 834.36L1612.56 832.36L1619.36 830.34L1626.27 828.29L1633.27 826.22L1640.38 824.13L1647.59 822.02L1654.91 819.89L1662.33 817.74L1669.85 815.58L1677.49 813.39L1685.24 811.19L1693.1 808.98L1701.07 806.75L1709.16 804.51L1717.36 802.25L1725.68 799.96L1734.13 797.64L1742.69 795.28L1751.38 792.86L1760.2 790.39L1769.14 787.86L1778.21 785.25L1787.42 782.59L1796.75 779.9L1806.22 777.18L1815.83 774.42L1825.58 771.63L1835.47 768.8L1845.5 765.93L1855.67 763.02L1866 760.07L1876.47 757.09L1887.1 754.06L1897.87 750.99L1908.81 747.87L1919.9 744.71L1931.15 741.51L1942.57 738.26L1954.15 734.97L1965.89 731.63L1977.81 728.24L1989.9 724.8" fill="none" stroke="#F8766D" stroke-width="3" stroke-linejoin="round"/>
<g fill="#00BFC4"><circle cx="1208.8" cy="1150.2" r="4.4"/><circle cx="1242.1" cy="1115.1" r="4.4"/><circle cx="1275.6" cy="1092.3" r="4.4"/><circle cx="1304.3" cy="1084" r="4.4"/><circle cx="1308.5" cy="1076" r="4.4"/><circle cx="1312" cy="1080.7" r="4.4"/><circle cx="1308" cy="1081.2" r="4.4"/><circle cx="1341.8" cy="1062.2" r="4.4"/><circle cx="1375.3" cy="1050.3" r="4.4"/><circle cx="1408.6" cy="1039.4" r="4.4"/><circle cx="1441.9" cy="1029.5" r="4.4"/><circle cx="1467.8" cy="1026.8" r="4.4"/><circle cx="1473.6" cy="1025.8" r="4.4"/><circle cx="1475.2" cy="1020.7" r="4.4"/><circle cx="1481.5" cy="1022" r="4.4"/><circle cx="1636.4" cy="984.9" r="4.4"/><circle cx="1641.6" cy="983.4" r="4.4"/><circle cx="1644.4" cy="982.1" r="4.4"/><circle cx="1806.1" cy="947.8" r="4.4"/></g>
<g fill="#F8766D"><circle cx="1228.3" cy="1032.8" r="4.4"/><circle cx="1271.2" cy="984.5" r="4.4"/><circle cx="1314.1" cy="952.9" r="4.4"/><circle cx="1356.6" cy="927.3" r="4.4"/><circle cx="1352.4" cy="944.9" r="4.4"/><circle cx="1357" cy="942.5" r="4.4"/><circle cx="1399.7" cy="906.8" r="4.4"/><circle cx="1441.7" cy="887" r="4.4"/><circle cx="1441.2" cy="889.8" r="4.4"/><circle cx="1484.7" cy="870.6" r="4.4"/><circle cx="1527.9" cy="853.5" r="4.4"/><circle cx="1527" cy="856.3" r="4.4"/><circle cx="1570.8" cy="839.7" r="4.4"/><circle cx="1569.5" cy="850.8" r="4.4"/><circle cx="1568.6" cy="855.4" r="4.4"/><circle cx="1562.5" cy="857.2" r="4.4"/><circle cx="1774.5" cy="785.2" r="4.4"/><circle cx="1778" cy="788.7" r="4.4"/><circle cx="1781.2" cy="783.1" r="4.4"/><circle cx="1989.9" cy="724.8" r="4.4"/></g>
<path d="M1169.7 701V1172H2033" fill="none" stroke="#000" stroke-width="4.45" stroke-linejoin="miter"/>
<path d="M1396.05 1172v8.2M1650.5 1172v8.2M1904.6 1172v8.2M1169.7 775.9h-8.2M1169.7 873.75h-8.2M1169.7 971.6h-8.2M1169.7 1069.5h-8.2M1169.7 1167.35h-8.2" fill="none" stroke="#000" stroke-width="4.45"/>
<text id="t35" x="1154.3" y="786.3" font-size="29.8" text-anchor="end" textLength="64.07" lengthAdjust="spacingAndGlyphs" class="r">4500</text>
<text id="t36" x="1154.3" y="884.15" font-size="29.8" text-anchor="end" textLength="64.07" lengthAdjust="spacingAndGlyphs" class="r">4000</text>
<text id="t37" x="1154.3" y="982" font-size="29.8" text-anchor="end" textLength="64.07" lengthAdjust="spacingAndGlyphs" class="r">3500</text>
<text id="t38" x="1154.3" y="1079.9" font-size="29.8" text-anchor="end" textLength="64.07" lengthAdjust="spacingAndGlyphs" class="r">3000</text>
<text id="t39" x="1154.3" y="1177.75" font-size="29.8" text-anchor="end" textLength="64.07" lengthAdjust="spacingAndGlyphs" class="r">2500</text>
<text id="t40" x="1399.5" y="1207.7" font-size="29.8" text-anchor="middle" textLength="96.1" lengthAdjust="spacingAndGlyphs" class="r">100000</text>
<text id="t41" x="1649.2" y="1207.7" font-size="29.8" text-anchor="middle" textLength="96.1" lengthAdjust="spacingAndGlyphs" class="r">200000</text>
<text id="t42" x="1899.8" y="1207.7" font-size="29.8" text-anchor="middle" textLength="96.1" lengthAdjust="spacingAndGlyphs" class="r">300000</text>
<text id="t43" x="1599.14" y="1250" font-size="33" text-anchor="middle" textLength="307.3" lengthAdjust="spacingAndGlyphs" class="r">Mean Reads per Cell</text>
<text id="t44" x="1056.7" y="938.18" font-size="33" text-anchor="middle" transform="rotate(-90 1056.7 938.18)" textLength="171.95" lengthAdjust="spacingAndGlyphs" class="r">UMI Counts</text>
<text id="t45" x="1169.07" y="676" font-size="33.3" font-weight="bold" textLength="433.49" lengthAdjust="spacingAndGlyphs">Median UMI Counts per Cell</text>
<text id="t46" x="1033.45" y="681.4" font-size="41" font-weight="bold" textLength="26.24" lengthAdjust="spacingAndGlyphs">d</text>
<text id="t47" x="743.27" y="1303.3" font-size="33" textLength="110.32" lengthAdjust="spacingAndGlyphs" class="r">Sample</text>
<path d="M873.1 1292.15h28.8" stroke="#00BFC4" stroke-width="3" fill="none"/>
<circle cx="887.5" cy="1292.15" r="4.4" fill="#00BFC4"/>
<path d="M1107.9 1292.15h28.8" stroke="#F8766D" stroke-width="3" fill="none"/>
<circle cx="1122.3" cy="1292.15" r="4.4" fill="#F8766D"/>
<text id="t48" x="921.79" y="1302.8" font-size="29.8" textLength="166.09" lengthAdjust="spacingAndGlyphs" class="r">Unstimulated</text>
<text id="t49" x="1156.42" y="1302.8" font-size="29.8" textLength="134.43" lengthAdjust="spacingAndGlyphs" class="r">Stimulated</text>
<path d="M375.8 1455.5V1473.2M375.8 1489.65V1512.9" stroke="#333333" stroke-width="4.45" fill="none"/>
<rect x="229.4" y="1473.2" width="292.8" height="16.45" fill="#00BFC4" stroke="#333333" stroke-width="4.45" stroke-linejoin="round"/>
<path d="M229.4 1483.45H522.2" stroke="#333333" stroke-width="8.9" fill="none"/>
<circle cx="375.8" cy="1446.6" r="3" fill="#333333"/>
<path d="M766.3 2080.9V2088.9M766.3 2097.4V2106.6" stroke="#333333" stroke-width="4.45" fill="none"/>
<rect x="619.9" y="2088.9" width="292.8" height="8.5" fill="#00BFC4" stroke="#333333" stroke-width="4.45" stroke-linejoin="round"/>
<path d="M619.9 2093.1H912.7" stroke="#333333" stroke-width="8.9" fill="none"/>
<circle cx="766.3" cy="2077.1" r="3" fill="#333333"/>
<path d="M141.5 1411.2V2139.5H1003.1" fill="none" stroke="#000" stroke-width="4.45" stroke-linejoin="miter"/>
<path d="M375.8 2139.5v8.2M766.3 2139.5v8.2M141.5 1437.6h-8.2M141.5 1564.3h-8.2M141.5 1691h-8.2M141.5 1817.7h-8.2M141.5 1944.4h-8.2M141.5 2071.1h-8.2" fill="none" stroke="#000" stroke-width="4.45"/>
<text id="t50" x="126.1" y="1448" font-size="29.8" text-anchor="end" textLength="64.07" lengthAdjust="spacingAndGlyphs" class="r">5600</text>
<text id="t51" x="126.1" y="1574.7" font-size="29.8" text-anchor="end" textLength="64.07" lengthAdjust="spacingAndGlyphs" class="r">5500</text>
<text id="t52" x="126.1" y="1701.4" font-size="29.8" text-anchor="end" textLength="64.07" lengthAdjust="spacingAndGlyphs" class="r">5400</text>
<text id="t53" x="126.1" y="1828.1" font-size="29.8" text-anchor="end" textLength="64.07" lengthAdjust="spacingAndGlyphs" class="r">5300</text>
<text id="t54" x="126.1" y="1954.8" font-size="29.8" text-anchor="end" textLength="64.07" lengthAdjust="spacingAndGlyphs" class="r">5200</text>
<text id="t55" x="126.1" y="2081.5" font-size="29.8" text-anchor="end" textLength="64.07" lengthAdjust="spacingAndGlyphs" class="r">5100</text>
<text id="t56" x="375.26" y="2175" font-size="29.8" text-anchor="middle" textLength="96.64" lengthAdjust="spacingAndGlyphs" class="r">Pre QC</text>
<text id="t57" x="764.85" y="2175" font-size="29.8" text-anchor="middle" textLength="107.07" lengthAdjust="spacingAndGlyphs" class="r">Post QC</text>
<text id="t58" x="570.84" y="2216.7" font-size="33" text-anchor="middle" textLength="192.35" lengthAdjust="spacingAndGlyphs" class="r">Unstimulated</text>
<text id="t59" x="28" y="1775.45" font-size="33" text-anchor="middle" transform="rotate(-90 28 1775.45)" textLength="230.58" lengthAdjust="spacingAndGlyphs" class="r">Number of Cells</text>
<text id="t60" x="141.69" y="1379" font-size="33.3" font-weight="bold" textLength="503.95" lengthAdjust="spacingAndGlyphs">Cell Numbers Pre− and Post−QC</text>
<text id="t61" x="8.46" y="1390.7" font-size="41" font-weight="bold" textLength="24.18" lengthAdjust="spacingAndGlyphs">e</text>
<path d="M1404 1446.4V1489.2M1404 1601.3V1651.4" stroke="#333333" stroke-width="4.45" fill="none"/>
<rect x="1257.6" y="1489.2" width="292.8" height="112.1" fill="#F8766D" stroke="#333333" stroke-width="4.45" stroke-linejoin="round"/>
<path d="M1257.6 1564.5H1550.4" stroke="#333333" stroke-width="8.9" fill="none"/>
<path d="M1794.5 1975.1V2003.7M1794.5 2079.9V2106.6" stroke="#333333" stroke-width="4.45" fill="none"/>
<rect x="1648.1" y="2003.7" width="292.8" height="76.2" fill="#F8766D" stroke="#333333" stroke-width="4.45" stroke-linejoin="round"/>
<path d="M1648.1 2052.9H1940.9" stroke="#333333" stroke-width="8.9" fill="none"/>
<path d="M1169.7 1411.2V2139.5H2033" fill="none" stroke="#000" stroke-width="4.45" stroke-linejoin="miter"/>
<path d="M1404 2139.5v8.2M1794.5 2139.5v8.2M1169.7 1506.3h-8.2M1169.7 1744.6h-8.2M1169.7 1982.9h-8.2" fill="none" stroke="#000" stroke-width="4.45"/>
<text id="t62" x="1154.3" y="1516.7" font-size="29.8" text-anchor="end" textLength="64.07" lengthAdjust="spacingAndGlyphs" class="r">4600</text>
<text id="t63" x="1154.3" y="1755" font-size="29.8" text-anchor="end" textLength="64.07" lengthAdjust="spacingAndGlyphs" class="r">4500</text>
<text id="t64" x="1154.3" y="1993.3" font-size="29.8" text-anchor="end" textLength="64.07" lengthAdjust="spacingAndGlyphs" class="r">4400</text>
<text id="t65" x="1403.55" y="2175" font-size="29.8" text-anchor="middle" textLength="96.47" lengthAdjust="spacingAndGlyphs" class="r">Pre QC</text>
<text id="t66" x="1793.24" y="2175" font-size="29.8" text-anchor="middle" textLength="107.56" lengthAdjust="spacingAndGlyphs" class="r">Post QC</text>
<text id="t67" x="1598.76" y="2216.8" font-size="33" text-anchor="middle" textLength="154.87" lengthAdjust="spacingAndGlyphs" class="r">Stimulated</text>
<text id="t68" x="1056.6" y="1775.5" font-size="33" text-anchor="middle" transform="rotate(-90 1056.6 1775.5)" textLength="230.68" lengthAdjust="spacingAndGlyphs" class="r">Number of Cells</text>
<text id="t69" x="1038.31" y="1390.8" font-size="41" font-weight="bold" textLength="14.71" lengthAdjust="spacingAndGlyphs">f</text>
</svg>
</body>
</html>
